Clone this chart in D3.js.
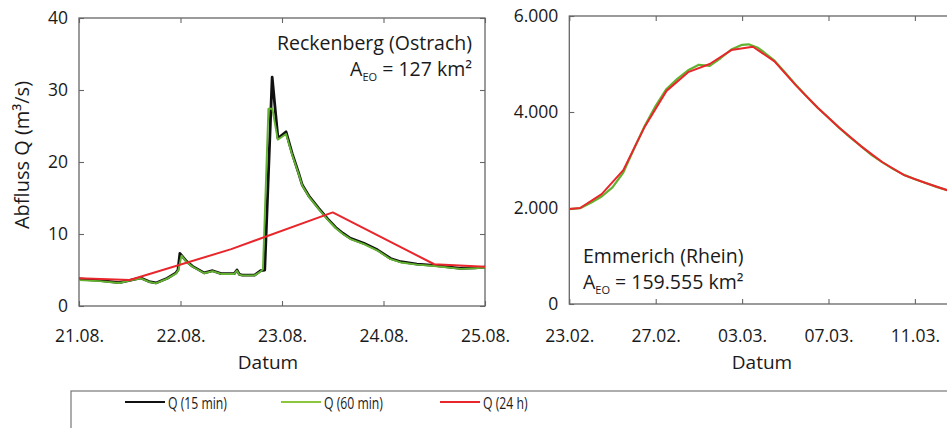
<!DOCTYPE html>
<html>
<head>
<meta charset="utf-8">
<script src="https://cdn.jsdelivr.net/npm/d3@7/dist/d3.min.js"></script>
<style>
  html, body { margin: 0; padding: 0; background: #fff; }
  svg { display: block; font-family: "Open Sans", "Noto Sans", sans-serif; }
</style>
</head>
<body>
<svg id="chart" width="947" height="428"></svg>
<script>
// ---------- DATA ----------
// Left panel: Reckenberg (Ostrach), time in days after 21.08.
const leftXTicks = [0, 1, 2, 3, 4];
const leftXLabels = ["21.08.", "22.08.", "23.08.", "24.08.", "25.08."];
const leftYTicks = [0, 10, 20, 30, 40];

const left15t = [0, 0.2, 0.395, 0.51, 0.61, 0.69, 0.757, 0.87, 0.955, 0.975, 0.994, 1.06, 1.12, 1.234, 1.316, 1.4, 1.53, 1.556, 1.58, 1.61, 1.73, 1.79, 1.83, 1.903, 1.96, 2.04, 2.1, 2.165, 2.2, 2.264, 2.36, 2.45, 2.53, 2.6, 2.675, 2.807, 2.94, 3.07, 3.17, 3.33, 3.5, 3.76, 3.9, 4.0];
const left15v = [3.75, 3.55, 3.25, 3.6, 3.9, 3.4, 3.2, 3.85, 4.6, 5.0, 7.3, 6.2, 5.5, 4.6, 4.9, 4.5, 4.5, 5.0, 4.4, 4.3, 4.3, 4.9, 5.0, 31.8, 23.3, 24.2, 21.2, 18.4, 16.8, 15.3, 13.6, 12.1, 10.9, 10.1, 9.4, 8.7, 7.8, 6.6, 6.15, 5.83, 5.65, 5.24, 5.3, 5.4];

const left60t = [0, 0.2, 0.395, 0.51, 0.61, 0.69, 0.757, 0.87, 0.955, 0.98, 1.01, 1.06, 1.12, 1.234, 1.316, 1.4, 1.53, 1.556, 1.58, 1.61, 1.73, 1.79, 1.812, 1.866, 1.905, 1.958, 2.04, 2.1, 2.165, 2.2, 2.264, 2.36, 2.45, 2.53, 2.6, 2.675, 2.807, 2.94, 3.07, 3.17, 3.33, 3.5, 3.76, 3.9, 4.0];
const left60v = [3.6, 3.45, 3.2, 3.55, 3.85, 3.35, 3.15, 3.8, 4.5, 5.0, 7.0, 6.1, 5.45, 4.55, 4.85, 4.45, 4.45, 4.9, 4.35, 4.25, 4.25, 4.8, 5.1, 27.4, 27.4, 23.1, 23.9, 21.0, 18.3, 16.7, 15.2, 13.5, 12.0, 10.8, 10.0, 9.3, 8.6, 7.7, 6.5, 6.05, 5.75, 5.55, 5.15, 5.25, 5.35];

const left24t = [0, 0.5, 1.5, 2.5, 3.5, 4.0];
const left24v = [3.85, 3.6, 7.9, 13.0, 5.8, 5.45];

// Right panel: Emmerich (Rhein), time in days after 23.02.
const rightXTicks = [0, 4, 8, 12, 16];
const rightXLabels = ["23.02.", "27.02.", "03.03.", "07.03.", "11.03."];
const rightYTicks = [0, 2000, 4000, 6000];
const rightYLabels = ["0", "2.000", "4.000", "6.000"];

const right60t = [0, 0.5, 1.0, 1.5, 2.0, 2.5, 3.0, 3.5, 4.0, 4.5, 5.0, 5.5, 6.0, 6.5, 7.0, 7.5, 8.0, 8.3, 8.7, 9.0, 9.5, 10.0, 10.5, 11.0, 11.5, 12.0, 12.5, 13.0, 13.5, 14.0, 14.5, 15.0, 15.5, 16.0, 16.5, 17.0, 17.5];
const right60v = [1975, 1995, 2110, 2240, 2430, 2740, 3240, 3720, 4130, 4480, 4690, 4870, 4985, 4960, 5120, 5300, 5400, 5410, 5345, 5250, 5070, 4820, 4560, 4320, 4090, 3880, 3670, 3470, 3290, 3100, 2950, 2810, 2690, 2600, 2520, 2440, 2370];

const right24t = [0, 0.5, 1.5, 2.5, 3.5, 4.5, 5.5, 6.5, 7.5, 8.5, 9.5, 10.5, 11.5, 12.5, 13.5, 14.5, 15.5, 16.5, 17.5];
const right24v = [1980, 2000, 2290, 2790, 3700, 4440, 4830, 5000, 5290, 5360, 5055, 4550, 4090, 3672, 3290, 2953, 2685, 2520, 2370];

const legendLabels = ["Q (15 min)", "Q (60 min)", "Q (24 h)"];
const colors = { q15: "#111111", q60: "#62b22f", q24: "#e8262b", legend60: "#8cc63f" };

// ---------- DRAW ----------
const svg = d3.select("#chart");
const axisColor = "#666";
const tickFont = 17.5;
const textColor = "#1a1a1a";

function zip(t, v) { return t.map((d, i) => ({ t: d, v: v[i] })); }

function panel(opts) {
  const { x0, x1, y0, y1, xDomain, yDomain, xTicks, xLabels, yTicks, yLabels, id } = opts;
  const x = d3.scaleLinear().domain(xDomain).range([x0, x1]);
  const y = d3.scaleLinear().domain(yDomain).range([y1, y0]);
  const g = svg.append("g");

  g.append("clipPath").attr("id", id).append("rect")
    .attr("x", x0).attr("y", y0).attr("width", x1 - x0).attr("height", y1 - y0);

  const xb = g.append("g").attr("transform", `translate(0,${y1})`)
    .call(d3.axisBottom(x).tickValues(xTicks).tickSize(-5).tickPadding(0)
      .tickFormat((d, i) => xLabels[i]));
  xb.selectAll("text").attr("dy", null).attr("y", 342 - y1).style("font-size", tickFont + "px").attr("fill", textColor);
  const xt = g.append("g").attr("transform", `translate(0,${y0})`)
    .call(d3.axisTop(x).tickValues(xTicks).tickSize(-5).tickFormat(""));
  const yl = g.append("g").attr("transform", `translate(${x0},0)`)
    .call(d3.axisLeft(y).tickValues(yTicks).tickSize(-5).tickPadding(11)
      .tickFormat((d, i) => yLabels[i]));
  yl.selectAll("text").style("font-size", tickFont + "px").attr("fill", textColor);
  const yr = g.append("g").attr("transform", `translate(${x1},0)`)
    .call(d3.axisRight(y).tickValues(yTicks).tickSize(-5).tickFormat(""));

  [xb, xt, yl, yr].forEach(a => {
    a.select(".domain").remove();
    a.selectAll("line").attr("stroke", axisColor).attr("stroke-width", 1.1);
    a.attr("font-family", null);
  });
  g.append("rect").attr("x", x0).attr("y", y0).attr("width", x1 - x0).attr("height", y1 - y0)
    .attr("fill", "none").attr("stroke", axisColor).attr("stroke-width", 1.3);

  const line = d3.line().x(d => x(d.t)).y(d => y(d.v));
  const lines = g.append("g").attr("clip-path", `url(#${id})`);
  return { x, y, g, line, lines };
}

// Left panel
const L = panel({
  id: "clipL", x0: 79, x1: 485, y0: 18, y1: 306,
  xDomain: [0, 4], yDomain: [0, 40],
  xTicks: leftXTicks, xLabels: leftXLabels, yTicks: leftYTicks, yLabels: leftYTicks.map(String)
});
L.lines.append("path").datum(zip(left15t, left15v)).attr("d", L.line)
  .attr("fill", "none").attr("stroke", colors.q15).attr("stroke-width", 2.8).attr("stroke-linejoin", "round");
L.lines.append("path").datum(zip(left60t, left60v)).attr("d", L.line)
  .attr("fill", "none").attr("stroke", colors.q60).attr("stroke-width", 1.9).attr("stroke-linejoin", "round");
L.lines.append("path").datum(zip(left24t, left24v)).attr("d", L.line)
  .attr("fill", "none").attr("stroke", colors.q24).attr("stroke-width", 2).attr("stroke-linejoin", "round");

// Right panel
const R = panel({
  id: "clipR", x0: 569.3, x1: 569.3 + 20 * 21.6, y0: 16, y1: 304,
  xDomain: [0, 20], yDomain: [0, 6000],
  xTicks: rightXTicks, xLabels: rightXLabels, yTicks: rightYTicks, yLabels: rightYLabels
});
R.lines.append("path").datum(zip(right60t, right60v)).attr("d", R.line)
  .attr("fill", "none").attr("stroke", colors.q60).attr("stroke-width", 2.2).attr("stroke-linejoin", "round");
R.lines.append("path").datum(zip(right24t, right24v)).attr("d", R.line)
  .attr("fill", "none").attr("stroke", colors.q24).attr("stroke-width", 2).attr("stroke-linejoin", "round");

// Axis titles
svg.append("text").attr("x", 268).attr("y", 369).attr("text-anchor", "middle")
  .style("font-size", "19px").attr("fill", textColor).text("Datum");
svg.append("text").attr("x", 762).attr("y", 369).attr("text-anchor", "middle")
  .style("font-size", "19px").attr("fill", textColor).text("Datum");
svg.append("text").attr("transform", "translate(29,155) rotate(-90)").attr("text-anchor", "middle")
  .style("font-size", "20px").attr("fill", textColor).text("Abfluss Q (m³/s)");

// Annotations
const annFont = 19.5;
function areaText(xPos, yPos, anchor, value) {
  const t = svg.append("text").attr("x", xPos).attr("y", yPos).attr("text-anchor", anchor)
    .style("font-size", annFont + "px").attr("fill", textColor);
  t.append("tspan").text("A");
  t.append("tspan").attr("dy", 5).style("font-size", "11px").text("EO");
  t.append("tspan").attr("dy", -5).text(" = " + value + " km²");
}
svg.append("text").attr("x", 472).attr("y", 50).attr("text-anchor", "end")
  .style("font-size", annFont + "px").attr("fill", textColor).text("Reckenberg (Ostrach)");
areaText(472, 76, "end", "127");
svg.append("text").attr("x", 583).attr("y", 263).attr("text-anchor", "start")
  .style("font-size", annFont + "px").attr("fill", textColor).text("Emmerich (Rhein)");
areaText(583, 289, "start", "159.555");

// Legend
svg.append("rect").attr("x", 71).attr("y", 391).attr("width", 900).attr("height", 60)
  .attr("fill", "#fff").attr("stroke", "#777").attr("stroke-width", 1.2);
const legendColors = [colors.q15, colors.legend60, colors.q24];
const legendX = [125, 281, 440];
const legendW = [58, 57, 45];
legendLabels.forEach((lab, i) => {
  svg.append("line").attr("x1", legendX[i]).attr("x2", legendX[i] + 40)
    .attr("y1", 402).attr("y2", 402).attr("stroke", legendColors[i]).attr("stroke-width", 2);
  const tx = legendX[i] + 43;
  svg.append("text").attr("x", 0).attr("y", 0)
    .attr("transform", `translate(${tx},409) scale(0.72,1)`)
    .style("font-size", "17px").attr("fill", textColor)
    .text(lab);
});
</script>
</body>
</html>
